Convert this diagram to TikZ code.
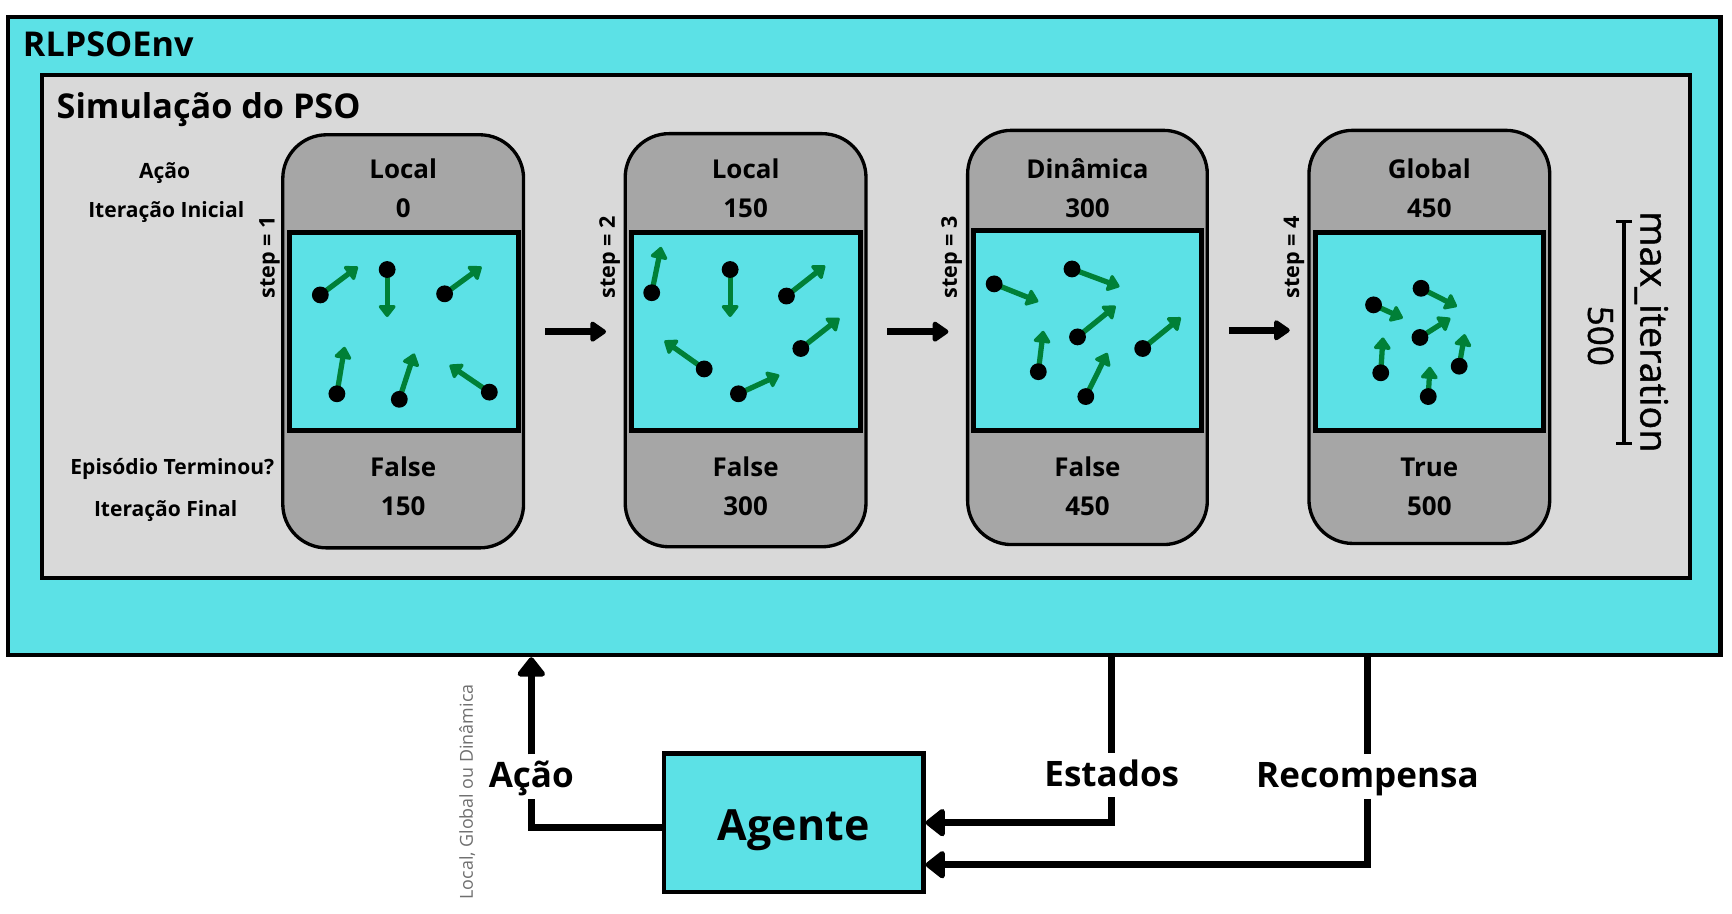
\documentclass[tikz,border=0pt]{standalone}
\usepackage{fontspec}
\setmainfont{Open Sans}
\usetikzlibrary{arrows.meta,fit}
\definecolor{envcyan}{HTML}{5CE1E6}
\definecolor{simgray}{HTML}{D9D9D9}
\definecolor{panelgray}{HTML}{A6A6A6}
\definecolor{velgreen}{HTML}{008037}
\definecolor{hintgray}{HTML}{6F6F6F}
\tikzset{
  envbox/.style={draw, line width=2.5pt, fill=envcyan, inner sep=0pt},
  simbox/.style={draw, line width=2.3pt, fill=simgray, inner sep=0pt},
  panel/.style={draw, line width=1.9pt, fill=panelgray, rounded corners=25pt, inner sep=0pt},
  swarm/.style={draw, line width=2.8pt, fill=envcyan, inner sep=0pt},
  title/.style={font=\bfseries\fontsize{19.5}{22}\selectfont, anchor=base west, inner sep=0pt},
  head/.style={font=\bfseries\fontsize{14.8}{17}\selectfont, anchor=base, inner sep=0pt},
  side/.style={font=\bfseries\fontsize{12}{14}\selectfont, anchor=base, inner sep=0pt},
  steplbl/.style={font=\bfseries\fontsize{12.3}{14}\selectfont, rotate=90, inner sep=0pt},
  maxlbl/.style={font=\addfontfeatures{FakeBold=1}\fontsize{#1}{24}\selectfont, rotate=-90, inner sep=0pt},
  flow/.style={line width=4pt, -{Triangle[length=10pt,width=13pt,round]}},
  link/.style={line width=4pt},
  linktip/.style={link, -{Triangle[length=12pt,width=18pt,round]}},
  linklbl/.style={font=\bfseries\fontsize{20}{24}\selectfont, inner sep=3pt, text height=16pt, text depth=3pt},
  vel/.style={draw=velgreen, line width=3pt, -{Triangle[length=7.5pt,width=11pt,round]}}
}
\begin{document}
\begin{tikzpicture}[x=0.63pt,y=-0.63pt]
\useasboundingbox (0,0) rectangle (1568,827);
% frames
\node [envbox, fit={(7.5,15.5) (1557.5,593)}] (env) {};
\node [simbox, fit={(38,68) (1530,523.5)}] (sim) {};
\node [title] (envtitle) at (20.5,50.7) {RLPSOEnv};
\node [title] (simtitle) at (51,107) {Simulação do PSO};
% row labels
\node [side] (acao) at (149,161.4) {Ação};
\node [side] (itini) at (150.5,196.7) {Iteração Inicial};
\node [side] (epfim) at (156,430) {Episódio Terminou?};
\node [side] (itfim) at (150,467.7) {Iteração Final};
% panels
\node [panel, fit={(256,122) (474,496)}] (p1) {};
\node [panel, fit={(566,121) (784,495)}] (p2) {};
\node [panel, fit={(876,118) (1093,493)}] (p3) {};
\node [panel, fit={(1185,118) (1403,492)}] (p4) {};
\node [swarm, fit={(262,210.5) (469.5,390)}] (b1) {};
\node [swarm, fit={(572,210.5) (779,390)}] (b2) {};
\node [swarm, fit={(881,208.5) (1088,389.5)}] (b3) {};
\node [swarm, fit={(1191,210.5) (1397.5,390)}] (b4) {};
\foreach \n/\x/\act/\ini/\done/\fin in {1/365/Local/0/False/150, 2/675/Local/150/False/300,
    3/984.5/Dinâmica/300/False/450, 4/1294/Global/450/True/500} {
  \node [head] (a\n) at (\x,161.4) {\act};
  \node [head] (i\n) at (\x,196.5) {\ini};
  \node [head] (d\n) at (\x,431.5) {\done};
  \node [head] (f\n) at (\x,466.5) {\fin};
}
\node [steplbl] (s1) at (244,233) {step = 1};
\node [steplbl] (s2) at (552,233) {step = 2};
\node [steplbl] (s3) at (861.5,233) {step = 3};
\node [steplbl] (s4) at (1171.5,233) {step = 4};
% particles
\foreach \px/\py/\qx/\qy in {
  290/267/324/241.5, 350.5/244/350.5/287, 402.5/266/436/241.5,
  305/356.5/312/314, 361.5/361.5/375/320, 443/355/407/330.5,
  590/265/598.5/223.5, 661/244/661/287, 712/268/747/240.5,
  725/315.5/760/288, 637.5/334/601.5/308.5, 668.5/356.5/705.5/339.5,
  900/257/940/273, 970.5/243.5/1013.5/259.5, 975.5/305/1010/277,
  940/336.5/944.5/299.5, 983/359/1002.5/319.5, 1034.5/315.5/1069/287.5,
  1243.5/276/1270/288, 1286.5/261/1319/277.5, 1285.5/305.5/1313/288,
  1250/337.5/1252/305.5, 1321/331.5/1326/302.5, 1293/359/1294.5/332} {
  \draw [vel] (\px,\py) -- (\qx,\qy);
  \fill (\px,\py) circle [radius=4.8pt];
}
% steps
\draw [flow, shorten <=11.3pt, shorten >=10pt] (p1.east |- b1.center) -- (p2.west |- b1.center);
\draw [flow, shorten <=11.3pt, shorten >=10pt] (p2.east |- b2.center) -- (p3.west |- b2.center);
\draw [flow, shorten <=11.3pt, shorten >=10pt] (p3.east |- b3.center) -- (p4.west |- b3.center);
% max iteration
\draw [line width=2pt, {Bar[width=9pt]}-{Bar[width=9pt]}] (1470,199) -- (1470,403);
\node [maxlbl=21.5] (maxit) at (1495,300.5) {max\_iteration};
\node [maxlbl=20] (maxval) at (1449,304) {500};
% agent loop
\node [envbox, fit={(601,682) (836,807.5)}] (agent) {};
\node [font=\bfseries\fontsize{24.5}{28}\selectfont, anchor=base, inner sep=0pt] (agentname) at (718.5,760.5) {Agente};
\node [linklbl] (actlbl) at (481,703) {Ação};
\node [linklbl] (stlbl) at (1006.5,701.5) {Estados};
\node [linklbl] (rwlbl) at (1238,703) {Recompensa};
\node [font=\fontsize{10.2}{12}\selectfont, text=hintgray, rotate=90, inner sep=0pt] (hint) at (423,717) {Local, Global ou Dinâmica};
\draw [link] ([yshift=-3pt]agent.west) -| (actlbl.south);
\draw [linktip] (actlbl.north) -- (actlbl.north |- env.south);
\draw [link] (env.south -| stlbl) -- (stlbl.north);
\draw [linktip] (stlbl.south) |- (agent.east);
\draw [link] (env.south -| rwlbl) -- (rwlbl.north);
\draw [linktip] (rwlbl.south) |- ([yshift=-24pt]agent.east);
\end{tikzpicture}
\end{document}
